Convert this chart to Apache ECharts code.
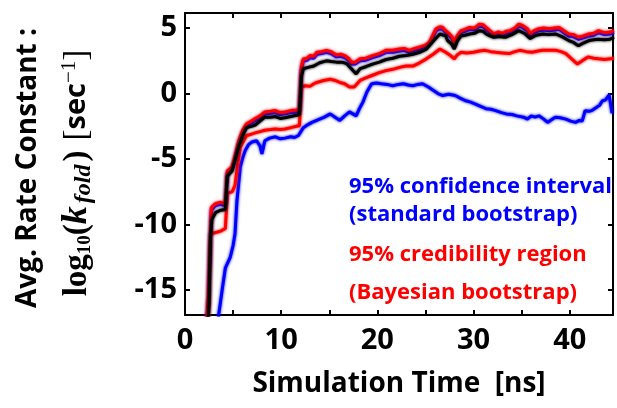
<!DOCTYPE html>
<html><head><meta charset="utf-8">
<script src="https://cdn.jsdelivr.net/npm/echarts@6/dist/echarts.min.js"></script>
<style>html,body{margin:0;padding:0;background:#fff}#c{width:617px;height:408px}</style>
</head><body><div id="c"></div>
<script>
var xTickValues = [0,5,10,15,20,25,30,35,40];
var xLabelValues = [0,10,20,30,40];
var yTickValues = [-15,-10,-5,0,5];

var redUpper = [[2.0,-20],[2.3,-16.9],[2.46,-15.3],[2.6,-12],[2.74,-8.7],[3.16,-8.4],[3.7,-8.3],[4.2,-8.4],[4.4,-5.9],[4.9,-5.6],[5.2,-4.8],[5.6,-3.6],[6.0,-2.8],[6.4,-2.3],[6.9,-2.1],[7.3,-1.9],[7.8,-1.7],[8.3,-1.4],[8.9,-1.35],[9.4,-1.3],[9.9,-1.45],[10.4,-1.4],[11.0,-1.3],[11.6,-1.25],[11.9,-1.2],[12.1,2.0],[12.3,2.65],[12.7,2.7],[13.0,2.9],[13.4,2.85],[13.7,3.15],[14.2,3.2],[14.7,3.3],[15.2,3.2],[15.75,2.95],[16.2,3.0],[16.6,2.9],[17.0,2.7],[17.3,2.4],[17.7,2.4],[18.2,2.65],[18.8,2.7],[19.5,2.9],[20.2,3.05],[20.9,3.3],[21.6,3.3],[22.3,3.4],[22.8,3.45],[23.3,3.3],[23.9,3.45],[24.4,3.55],[25.0,3.7],[25.4,3.9],[25.8,4.5],[26.1,4.95],[26.5,5.1],[26.8,5.05],[27.1,4.8],[27.5,4.55],[27.8,4.3],[28.0,3.8],[28.3,4.4],[28.7,4.8],[29.1,4.9],[29.6,5.05],[30.1,5.0],[30.6,5.3],[31.0,5.25],[31.3,5.05],[31.7,4.8],[32.1,4.55],[32.6,4.7],[33.0,4.6],[33.4,4.75],[33.8,4.8],[34.3,5.0],[34.7,5.3],[35.1,5.2],[35.6,4.95],[35.9,4.55],[36.3,4.8],[36.8,4.95],[37.3,5.0],[37.9,4.95],[38.4,5.0],[38.9,5.05],[39.4,4.8],[39.9,4.55],[40.4,4.5],[40.9,4.3],[41.4,4.4],[42.0,4.55],[42.5,4.6],[43.0,4.8],[43.6,4.65],[44.2,4.7],[44.6,4.8]];

var blueUpper = [[2.0,-20],[2.3,-17.0],[2.46,-15.5],[2.6,-12.2],[2.74,-8.9],[3.16,-8.55],[3.7,-8.45],[4.2,-8.55],[4.4,-6.05],[4.9,-5.75],[5.2,-4.95],[5.6,-3.75],[6.0,-2.95],[6.4,-2.45],[6.9,-2.25],[7.3,-2.05],[7.8,-1.85],[8.3,-1.55],[8.9,-1.5],[9.4,-1.45],[9.9,-1.6],[10.4,-1.55],[11.0,-1.45],[11.6,-1.4],[11.9,-1.35],[12.1,1.85],[12.3,2.5],[12.7,2.55],[13.0,2.75],[13.4,2.7],[13.7,3.0],[14.2,3.05],[14.7,3.15],[15.2,3.05],[15.75,2.8],[16.2,2.85],[16.6,2.75],[17.0,2.55],[17.3,2.25],[17.7,2.25],[18.2,2.5],[18.8,2.55],[19.5,2.75],[20.2,2.9],[20.9,3.15],[21.6,3.15],[22.3,3.25],[22.8,3.3],[23.3,3.15],[23.9,3.3],[24.4,3.4],[25.0,3.55],[25.4,3.75],[25.8,4.35],[26.1,4.8],[26.5,4.95],[26.8,4.9],[27.1,4.65],[27.5,4.4],[27.8,4.15],[28.0,3.65],[28.3,4.25],[28.7,4.65],[29.1,4.75],[29.6,4.9],[30.1,4.85],[30.6,5.15],[31.0,5.1],[31.3,4.9],[31.7,4.65],[32.1,4.4],[32.6,4.55],[33.0,4.45],[33.4,4.6],[33.8,4.65],[34.3,4.85],[34.7,5.15],[35.1,5.05],[35.6,4.8],[35.9,4.4],[36.3,4.65],[36.8,4.8],[37.3,4.85],[37.9,4.8],[38.4,4.85],[38.9,4.9],[39.4,4.65],[39.9,4.4],[40.4,4.35],[40.9,4.15],[41.4,4.25],[42.0,4.4],[42.5,4.45],[43.0,4.65],[43.6,4.5],[44.2,4.55],[44.6,4.65]];

var meanLine = [[2.2,-20],[2.5,-16],[2.65,-11],[2.8,-9.6],[3.2,-9.06],[3.7,-8.9],[4.2,-8.85],[4.4,-6.3],[4.9,-5.9],[5.2,-5.1],[5.6,-4.0],[6.0,-3.2],[6.4,-2.6],[6.9,-2.5],[7.3,-2.4],[7.8,-2.1],[8.3,-1.8],[8.9,-1.8],[9.4,-1.75],[9.9,-1.9],[10.4,-1.85],[11.0,-1.75],[11.6,-1.65],[11.9,-1.6],[12.1,1.3],[12.3,1.9],[12.8,2.0],[13.4,2.1],[14.0,2.35],[14.7,2.5],[15.2,2.45],[15.75,2.4],[16.3,2.4],[16.8,2.3],[17.3,1.9],[17.8,1.5],[18.2,1.9],[18.8,2.05],[19.5,2.25],[20.2,2.4],[20.9,2.6],[21.6,2.7],[22.3,2.85],[23.0,2.9],[23.7,3.0],[24.4,3.15],[25.1,3.4],[25.8,4.0],[26.5,4.55],[27.1,4.4],[27.3,4.05],[27.7,3.8],[28.0,3.4],[28.3,4.0],[28.7,4.4],[29.1,4.45],[29.6,4.55],[30.1,4.6],[30.6,4.8],[31.0,4.75],[31.3,4.55],[31.7,4.4],[32.1,4.3],[32.7,4.35],[33.3,4.3],[34.0,4.5],[34.7,4.8],[35.3,4.6],[35.9,4.2],[36.5,4.45],[37.2,4.55],[37.8,4.5],[38.5,4.55],[39.2,4.35],[39.9,4.05],[40.4,3.9],[40.9,3.65],[41.4,3.85],[42.0,4.05],[42.5,4.1],[43.0,4.15],[43.6,4.1],[44.2,4.15],[44.6,4.3]];

var redLower = [[2.3,-20],[2.5,-15.5],[2.64,-10.7],[3.2,-10.6],[3.7,-10.5],[4.2,-10.3],[4.4,-7.6],[4.9,-7.5],[5.2,-7.0],[5.5,-5.3],[5.75,-4.1],[6.1,-3.6],[6.4,-3.2],[6.9,-3.1],[7.3,-3.0],[7.8,-2.9],[8.3,-2.8],[8.9,-2.75],[9.4,-2.7],[9.9,-2.75],[10.4,-2.7],[11.0,-2.6],[11.6,-2.5],[11.9,-2.45],[12.1,0.5],[12.5,0.6],[13.0,0.55],[13.4,0.75],[13.7,0.85],[14.4,1.0],[15.1,1.1],[15.6,1.0],[16.1,0.85],[16.6,0.75],[17.1,0.5],[17.6,0.5],[18.2,1.0],[18.8,1.2],[19.5,1.4],[20.2,1.6],[20.9,1.75],[21.6,1.85],[22.3,2.0],[23.0,2.1],[23.7,2.1],[24.4,2.35],[25.1,2.65],[25.8,3.0],[26.5,3.4],[27.1,3.15],[27.6,2.9],[28.0,2.65],[28.3,2.95],[28.7,3.15],[29.3,3.1],[30.0,3.15],[30.6,3.25],[31.2,3.3],[31.8,3.2],[32.3,3.15],[33.0,3.1],[33.7,3.05],[34.3,3.2],[34.8,3.3],[35.5,3.2],[36.1,3.15],[36.7,3.25],[37.2,3.3],[37.9,3.3],[38.6,3.3],[39.1,3.2],[39.6,3.05],[40.2,2.65],[40.8,2.25],[41.3,2.5],[41.9,2.8],[42.5,2.7],[43.0,2.65],[43.6,2.6],[44.2,2.65],[44.6,2.7]];

var blueLower = [[3.3,-20],[3.5,-16.9],[3.9,-14.8],[4.2,-13.3],[4.7,-12.5],[5.0,-11.6],[5.2,-10.7],[5.4,-8.2],[5.75,-5.6],[6.0,-4.9],[6.26,-4.35],[6.6,-3.9],[6.95,-3.7],[7.45,-3.6],[7.8,-4.0],[8.0,-4.6],[8.3,-3.6],[8.8,-3.4],[9.4,-3.3],[9.9,-3.45],[10.4,-3.4],[11.0,-3.3],[11.4,-3.35],[11.8,-3.2],[12.3,-2.6],[12.6,-2.45],[13.2,-2.2],[14.0,-1.95],[14.5,-1.8],[15.1,-1.55],[15.6,-1.8],[16.1,-2.05],[16.6,-1.7],[17.1,-1.4],[17.8,-1.7],[18.1,-1.2],[18.5,-0.65],[18.9,0.1],[19.4,0.75],[19.9,0.8],[20.4,0.75],[21.0,0.7],[21.6,0.6],[22.2,0.7],[22.7,0.75],[23.2,0.65],[23.7,0.6],[24.2,0.7],[24.7,0.75],[25.3,0.5],[25.8,0.25],[26.3,0.0],[26.8,-0.15],[27.4,-0.05],[28.1,-0.15],[28.6,-0.35],[29.2,-0.55],[29.7,-0.65],[30.2,-0.8],[30.8,-1.0],[31.3,-1.15],[31.8,-1.2],[32.3,-1.3],[32.9,-1.45],[33.4,-1.55],[34.0,-1.6],[34.5,-1.7],[35.2,-1.8],[35.6,-1.95],[36.0,-1.7],[36.4,-1.8],[36.8,-1.7],[37.3,-1.95],[37.7,-2.2],[38.1,-2.0],[38.5,-1.8],[39.0,-1.85],[39.6,-1.95],[40.1,-2.1],[40.6,-2.2],[41.0,-2.05],[41.3,-2.1],[41.6,-1.3],[42.0,-1.35],[42.3,-1.3],[42.8,-1.05],[43.1,-0.9],[43.4,-0.55],[43.7,-0.5],[43.9,-0.4],[44.1,-0.1],[44.4,-1.5]];

var FONT = '"Open Sans", sans-serif';
var SERIF = '"Liberation Serif", "DejaVu Serif", serif';
var chart = echarts.init(document.getElementById('c'), null, {renderer: 'canvas'});

function mkSeries(name, data, color, z) {
  return {
    name: name, type: 'line', data: data, showSymbol: false, symbol: 'none',
    clip: true, z: z, animation: false,
    lineStyle: {color: color, width: 3, shadowBlur: 3, shadowColor: color}
  };
}

var option = {
  animation: false,
  backgroundColor: '#fff',
  grid: {left: 185, right: 4, top: 13, bottom: 93, containLabel: false},
  xAxis: [{
    type: 'value', min: 0, max: 44.5, interval: 5,
    axisLine: {show: true, onZero: false, lineStyle: {color: '#000', width: 2}},
    axisTick: {show: true, inside: true, length: 5, lineStyle: {color: '#000', width: 2}, customValues: xTickValues},
    axisLabel: {show: true, margin: 11, color: '#000', fontFamily: FONT, fontWeight: 'bold', fontSize: 29, customValues: xLabelValues},
    splitLine: {show: false},
    name: 'Simulation Time  [ns]', nameLocation: 'middle', nameGap: 55,
    nameTextStyle: {color: '#000', fontFamily: FONT, fontWeight: 'bold', fontSize: 28}
  }, {
    type: 'value', position: 'top', min: 0, max: 44.5, interval: 5,
    axisLine: {show: true, onZero: false, lineStyle: {color: '#000', width: 2}},
    axisTick: {show: true, inside: true, length: 5, lineStyle: {color: '#000', width: 2}, customValues: xTickValues},
    axisLabel: {show: false}, splitLine: {show: false}
  }],
  yAxis: [{
    type: 'value', min: -16.9, max: 6.15,
    axisLine: {show: true, onZero: false, lineStyle: {color: '#000', width: 2}},
    axisTick: {show: true, inside: true, length: 5, lineStyle: {color: '#000', width: 2}, customValues: yTickValues},
    axisLabel: {show: true, margin: 8, color: '#000', fontFamily: FONT, fontWeight: 'bold', fontSize: 29, customValues: yTickValues},
    splitLine: {show: false}
  }, {
    type: 'value', position: 'right', min: -16.9, max: 6.15,
    axisLine: {show: true, onZero: false, lineStyle: {color: '#000', width: 2}},
    axisTick: {show: true, inside: true, length: 5, lineStyle: {color: '#000', width: 2}, customValues: yTickValues},
    axisLabel: {show: false}, splitLine: {show: false}
  }],
  series: [
    mkSeries('blueLower', blueLower, '#0000ff', 2),
    mkSeries('redLower', redLower, '#ff0000', 3),
    mkSeries('blueUpper', blueUpper, '#0000ff', 4),
    mkSeries('redUpper', redUpper, '#ff0000', 5),
    mkSeries('mean', meanLine, '#000000', 6)
  ],
  graphic: [
    {type: 'text', x: 349, y: 187, z: 10, style: {text: '95% confidence interval', fill: '#0000ff', font: 'bold 22px ' + FONT, verticalAlign: 'middle'}},
    {type: 'text', x: 349, y: 215, z: 10, style: {text: '(standard bootstrap)', fill: '#0000ff', font: 'bold 22px ' + FONT, verticalAlign: 'middle'}},
    {type: 'text', x: 349, y: 255, z: 10, style: {text: '95% credibility region', fill: '#ff0000', font: 'bold 22px ' + FONT, verticalAlign: 'middle'}},
    {type: 'text', x: 349, y: 293, z: 10, style: {text: '(Bayesian bootstrap)', fill: '#ff0000', font: 'bold 22px ' + FONT, verticalAlign: 'middle'}},
    {type: 'text', x: 28, y: 168, rotation: Math.PI / 2, z: 10,
      style: {text: 'Avg. Rate Constant :', fill: '#000', font: 'bold 28px ' + FONT, align: 'center', verticalAlign: 'middle'}},
    {type: 'text', x: 77, y: 173, rotation: Math.PI / 2, z: 10,
      style: {
        text: '{n|log}{s|10}{n|(}{k|k}{f|fold}{n|)}{b|[}{c|sec}{p|−1}{e|]}',
        align: 'center', verticalAlign: 'middle',
        rich: {
          n: {fill: '#000', fontFamily: SERIF, fontSize: 33, fontWeight: 'bold'},
          b: {fill: '#000', fontFamily: SERIF, fontSize: 33, padding: [0, 0, 0, 10]},
          e: {fill: '#000', fontFamily: SERIF, fontSize: 33},
          c: {fill: '#000', fontFamily: FONT, fontSize: 29, fontWeight: 'bold'},
          s: {fill: '#000', fontFamily: SERIF, fontSize: 19, fontWeight: 'bold', padding: [16, 0, 0, 0]},
          k: {fill: '#000', fontFamily: SERIF, fontSize: 36, fontStyle: 'italic', fontWeight: 'bold', padding: [0, 3, 0, 0]},
          f: {fill: '#000', fontFamily: SERIF, fontSize: 24, fontStyle: 'italic', fontWeight: 'bold', padding: [14, 3, 0, 0]},
          p: {fill: '#000', fontFamily: SERIF, fontSize: 21, padding: [0, 0, 16, 0]}
        }
      }}
  ]
};
chart.setOption(option);
</script>
</body></html>
